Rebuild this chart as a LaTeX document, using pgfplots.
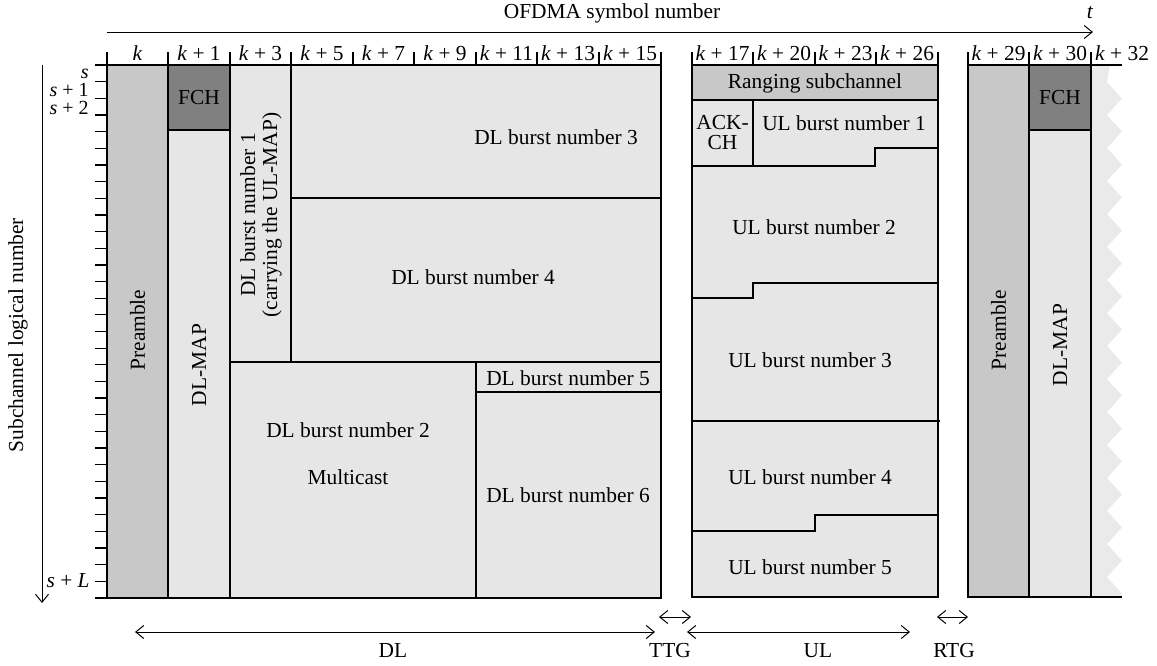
\documentclass[border=0pt]{standalone}
\usepackage{fontspec}
\setmainfont{Liberation Serif}
\usepackage{pgfplots}
\pgfplotsset{compat=1.18}
\usetikzlibrary{arrows.meta}
\definecolor{lg}{HTML}{E6E6E6}
\definecolor{pg}{HTML}{C8C8C8}
\definecolor{dg}{HTML}{808080}
\definecolor{zg}{HTML}{EAEAEA}
\newcommand{\rect}[5]{\addplot[fill=#5, draw=black, line width=0.65pt] coordinates {(#1,#2) (#3,#2) (#3,#4) (#1,#4)} -- cycle;}
\newcommand{\kl}[2]{\node[anchor=base, inner sep=0pt] at (axis cs:#1,60) {#2};}
\begin{document}
\begin{tikzpicture}[font=\fontsize{10.7pt}{12pt}\selectfont]
\begin{axis}[scale only axis, width=578.5pt, height=332.5pt,
  xmin=0, xmax=1157, ymin=0, ymax=665, y dir=reverse,
  hide axis, clip=false]
\addplot[draw=none] coordinates {(0,0) (1157,665)};
% ---------- DL subframe ----------
\rect{107}{65}{168}{598}{pg}
\rect{168}{65}{230}{130}{dg}
\rect{168}{130}{230}{598}{lg}
\rect{230}{65}{291}{362}{lg}
\rect{291}{65}{661}{198}{lg}
\rect{291}{198}{661}{362}{lg}
\rect{230}{362}{476}{598}{lg}
\rect{476}{362}{661}{392}{lg}
\rect{476}{392}{661}{598}{lg}
% ---------- UL subframe ----------
\rect{692}{65}{938}{597}{lg}
\rect{692}{65}{938}{100}{pg}
\addplot[black, line width=0.65pt] coordinates {(753,100) (753,166)};
\addplot[black, line width=0.65pt] coordinates {(692,166) (875,166) (875,148) (938,148)};
\addplot[black, line width=0.65pt] coordinates {(692,298) (753,298) (753,283) (938,283)};
\addplot[black, line width=0.65pt] coordinates {(692,421) (940,421)};
\addplot[black, line width=0.65pt] coordinates {(692,531) (815,531) (815,515) (938,515)};
% ---------- next frame ----------
\addplot[fill=zg, draw=none] coordinates {(1091,65) (1110,65) (1107,82) (1122,98.5) (1107,115) (1122,131.5) (1107,148) (1122,164.5) (1107,181) (1122,197.5) (1107,214) (1122,230.5) (1107,247) (1122,263.5) (1107,280) (1122,296.5) (1107,313) (1122,329.5) (1107,346) (1122,362.5) (1107,379) (1122,395.5) (1107,412) (1122,428.5) (1107,445) (1122,461.5) (1107,478) (1122,494.5) (1107,511) (1122,527.5) (1107,544) (1122,560.5) (1107,577) (1122,593.5) (1120,597) (1091,597)} -- cycle;
\rect{968}{65}{1029}{597}{pg}
\rect{1029}{65}{1091}{130}{dg}
\rect{1029}{130}{1091}{597}{lg}
\addplot[black, line width=0.65pt] coordinates {(1091,65) (1122,65)};
\addplot[black, line width=0.65pt] coordinates {(1091,597) (1122,597)};
% ---------- subchannel ticks ----------
\pgfplotsinvokeforeach{65,81.66,98.31,114.97,131.63,148.28,164.94,181.59,198.25,214.91,231.56,248.22,264.88,281.53,298.19,314.84,331.5,348.16,364.81,381.47,398.13,414.78,431.44,448.09,464.75,481.41,498.06,514.72,531.38,548.03,564.69,581.34,598}{
  \addplot[black, line width=0.65pt] coordinates {(95,#1) (107,#1)};
}
% ---------- symbol ticks ----------
\pgfplotsinvokeforeach{107,168,230,291,353,414,476,537,599,661,692,753,815,876,938,968,1029,1091}{
  \addplot[black, line width=0.65pt] coordinates {(#1,52) (#1,65)};
}
% ---------- arrows ----------
\addplot[black, line width=0.5pt, -{Straight Barb[length=4pt,width=6.5pt]}] coordinates {(107,32) (1093,32)};
\addplot[black, line width=0.5pt, -{Straight Barb[length=4pt,width=6.5pt]}] coordinates {(42,65) (42,603)};
\addplot[black, line width=0.5pt, {Straight Barb[length=4pt,width=6.5pt]}-{Straight Barb[length=4pt,width=6.5pt]}] coordinates {(135,632) (655,632)};
\addplot[black, line width=0.5pt, {Straight Barb[length=4pt,width=6.5pt]}-{Straight Barb[length=4pt,width=6.5pt]}] coordinates {(659,617) (691,617)};
\addplot[black, line width=0.5pt, {Straight Barb[length=4pt,width=6.5pt]}-{Straight Barb[length=4pt,width=6.5pt]}] coordinates {(687,632) (910,632)};
\addplot[black, line width=0.5pt, {Straight Barb[length=4pt,width=6.5pt]}-{Straight Barb[length=4pt,width=6.5pt]}] coordinates {(937,617) (968,617)};
% ---------- texts ----------
\node[anchor=base, inner sep=0pt] at (axis cs:612,18) {OFDMA symbol number};
\node[anchor=base, inner sep=0pt] at (axis cs:1090,18) {\textit{t}};
\node[rotate=90, inner sep=0pt] at (axis cs:18,335) {Subchannel logical number};
\node[anchor=base east, inner sep=0pt, font=\fontsize{10pt}{12pt}\selectfont] at (axis cs:89,78) {\textit{s}};
\node[anchor=base east, inner sep=0pt, font=\fontsize{10pt}{12pt}\selectfont] at (axis cs:89,96.5) {\textit{s} + 1};
\node[anchor=base east, inner sep=0pt, font=\fontsize{10pt}{12pt}\selectfont] at (axis cs:89,114) {\textit{s} + 2};
\node[anchor=base east, inner sep=0pt] at (axis cs:90,587) {\textit{s} + \textit{L}};
\kl{137.5}{\textit{k}}
\kl{199}{\textit{k} + 1}
\kl{260.5}{\textit{k} + 3}
\kl{322}{\textit{k} + 5}
\kl{383.5}{\textit{k} + 7}
\kl{445}{\textit{k} + 9}
\kl{506.5}{\textit{k} + 11}
\kl{568}{\textit{k} + 13}
\kl{630}{\textit{k} + 15}
\kl{722.5}{\textit{k} + 17}
\kl{784}{\textit{k} + 20}
\kl{845.5}{\textit{k} + 23}
\kl{907}{\textit{k} + 26}
\kl{998.5}{\textit{k} + 29}
\kl{1060}{\textit{k} + 30}
\kl{1122}{\textit{k} + 32}
\node[rotate=90] at (axis cs:137.5,330) {Preamble};
\node at (axis cs:199,98) {FCH};
\node[rotate=90] at (axis cs:199,365) {DL-MAP};
\node[rotate=90, align=center, font=\fontsize{10.7pt}{11pt}\selectfont] at (axis cs:261,215) {DL burst number 1\\(carrying the UL-MAP)};
\node at (axis cs:556,137) {DL burst number 3};
\node at (axis cs:473,277) {DL burst number 4};
\node at (axis cs:348,430) {DL burst number 2};
\node at (axis cs:348,477) {Multicast};
\node at (axis cs:568,378) {DL burst number 5};
\node at (axis cs:568,495) {DL burst number 6};
\node at (axis cs:815,83) {Ranging subchannel};
\node[align=center, font=\fontsize{10.7pt}{10pt}\selectfont] at (axis cs:722.5,133) {ACK-\\CH};
\node at (axis cs:844,123) {UL burst number 1};
\node at (axis cs:814,227) {UL burst number 2};
\node at (axis cs:810,360) {UL burst number 3};
\node at (axis cs:810,477) {UL burst number 4};
\node at (axis cs:810,567) {UL burst number 5};
\node[rotate=90] at (axis cs:998.5,330) {Preamble};
\node at (axis cs:1060,98) {FCH};
\node[rotate=90] at (axis cs:1060,345) {DL-MAP};
\node[anchor=base, inner sep=0pt] at (axis cs:393,657) {DL};
\node[anchor=base, inner sep=0pt] at (axis cs:670,657) {TTG};
\node[anchor=base, inner sep=0pt] at (axis cs:818,657) {UL};
\node[anchor=base, inner sep=0pt] at (axis cs:954,657) {RTG};
\end{axis}
\end{tikzpicture}
\end{document}
